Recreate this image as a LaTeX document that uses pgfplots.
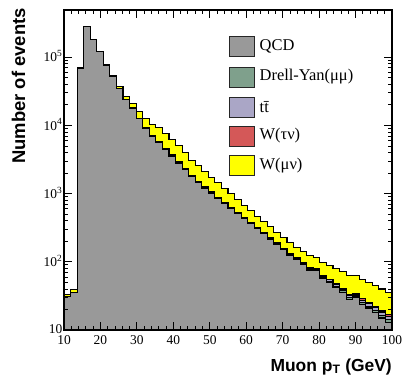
\documentclass[border=0pt]{standalone}
\usepackage{fontspec}
\setmainfont{Liberation Serif}
\setsansfont{Liberation Sans}
\usepackage{pgfplots}
\usepackage{pgfplotstable}
\pgfplotsset{compat=1.18}

\definecolor{qcdgray}{RGB}{153,153,153}
\definecolor{dygreen}{RGB}{127,160,140}
\definecolor{ttlav}{RGB}{170,166,198}
\definecolor{wtaured}{RGB}{212,88,88}
\definecolor{wmuyel}{RGB}{255,255,0}

% Muon pT spectrum, 1.8 GeV bins: left bin edge and events per sample
\pgfplotstableread{
edge  qcd     dy    tt   wtau  wmu
10.0  31      0     0    0     2
11.8  36      0     0    0     3
13.6  69000   300   1    16    400
15.4  280000  900   2    32    800
17.2  180000  700   2.5  44    1100
19.0  120000  500   3    56    1400
20.8  77000   350   3.2  68    1700
22.6  52000   250   3.5  78    1950
24.4  35000   180   3.7  88    2200
26.2  24000   130   3.9  100   2500
28.0  18000   100   4    112   2800
29.8  12600   80    4.2  124   3100
31.6  9000    65    4.2  132   3300
33.4  6800    55    4.2  138   3450
35.2  5600    45    4.2  140   3500
37.0  4500    38    4.2  120   3000
38.8  3550    32    4.2  104   2600
40.6  2800    27    4.2  84    2100
42.4  2240    23    4.2  66    1650
44.2  1780    19    4.2  50    1250
46.0  1450    16    4.2  42    1050
47.8  1200    14    4.0  34    840
49.6  1020    12    3.9  27    680
51.4  850     10    3.8  22    560
53.2  720     9     3.7  18    450
55.0  600     8     3.6  15    370
56.8  510     7     3.5  11    280
58.6  435     6     3.4  9     225
60.4  365     5.5   3.3  7.2   180
62.2  305     5     3.2  6     150
64.0  260     4.5   3.1  4.7   118
65.8  215     4     3.0  4     99
67.6  180     3.6   2.9  3.2   80
69.4  150     3.2   2.8  2.6   66
71.2  125     3     2.8  2.3   57
73.0  107     2.8   2.7  2     50
74.8  92      2.6   2.6  1.8   44
76.6  76      2.4   2.6  1.6   40
78.4  74      2.2   2.5  1.5   37
80.2  58      2     2.4  1.4   35
82.0  50      1.9   2.4  1.3   33
83.8  42      1.8   2.3  1.3   32
85.6  36      1.7   2.3  1.2   31
87.4  28      1.6   2.2  1.2   30
89.2  30      1.5   2.2  1.1   28
91.0  24      1.4   2.1  1.1   27
92.8  21      1.3   2.1  1     25
94.6  18      1.2   2.0  0.9   23
96.4  15      1.2   2.0  0.8   21
98.2  13      1.1   1.9  0.8   19
100.0 13      1.1   1.9  0.8   19
}\histdata

\begin{document}
\begin{tikzpicture}
\begin{axis}[
  scale only axis,
  width=328bp, height=320bp,
  xmin=10, xmax=100,
  ymode=log, ymin=10, ymax=4.94e5,
  xtick={10,20,30,40,50,60,70,80,90,100},
  xticklabels={10,20,30,40,50,60,70,80,90,100},
  minor x tick num=4,
  ytick={10,100,1000,10000,100000},
  yticklabels={10,10\textsuperscript{2},10\textsuperscript{3},10\textsuperscript{4},10\textsuperscript{5}},
  tick align=inside,
  major tick length=8bp, minor tick length=4bp,
  every tick/.style={black, line width=0.9bp},
  axis line style={line width=1.6bp},
  tick label style={font=\fontsize{13.5}{13.5}\selectfont},
  xticklabel style={inner sep=0bp, yshift=-5bp},
  yticklabel style={inner sep=1.5bp, yshift=1bp},
  axis on top,
]
% stacked histograms, drawn from the cumulative top down
\addplot[const plot mark left, fill=wmuyel, draw=black, line width=1.1bp]
  table[x=edge, y expr=\thisrow{qcd}+\thisrow{dy}+\thisrow{tt}+\thisrow{wtau}+\thisrow{wmu}] {\histdata} \closedcycle;
\addplot[const plot mark left, fill=wtaured, draw=black, line width=1.1bp]
  table[x=edge, y expr=\thisrow{qcd}+\thisrow{dy}+\thisrow{tt}+\thisrow{wtau}] {\histdata} \closedcycle;
\addplot[const plot mark left, fill=ttlav, draw=black, line width=1.1bp]
  table[x=edge, y expr=\thisrow{qcd}+\thisrow{dy}+\thisrow{tt}] {\histdata} \closedcycle;
\addplot[const plot mark left, fill=dygreen, draw=black, line width=1.1bp]
  table[x=edge, y expr=\thisrow{qcd}+\thisrow{dy}] {\histdata} \closedcycle;
\addplot[const plot mark left, fill=qcdgray, draw=black, line width=1.1bp]
  table[x=edge, y=qcd] {\histdata} \closedcycle;
\coordinate (sw) at (rel axis cs:0,0);
\coordinate (se) at (rel axis cs:1,0);
\coordinate (nw) at (rel axis cs:0,1);
\coordinate (ne) at (rel axis cs:1,1);
\end{axis}

% legend
\begin{scope}[every node/.style={anchor=west, inner sep=0, font=\fontsize{16.5}{16.5}\selectfont}]
\draw[fill=qcdgray, draw=black!85, line width=0.8bp] ([shift={(165.3bp,-26.5bp)}]nw) rectangle ([shift={(190.3bp,-46.5bp)}]nw);
\node at ([shift={(195.5bp,-36.5bp)}]nw) {QCD};
\draw[fill=dygreen, draw=black!85, line width=0.8bp] ([shift={(165.3bp,-57bp)}]nw) rectangle ([shift={(190.3bp,-77bp)}]nw);
\node at ([shift={(195.5bp,-67bp)}]nw) {Drell-Yan(μμ)};
\draw[fill=ttlav, draw=black!85, line width=0.8bp] ([shift={(165.3bp,-87bp)}]nw) rectangle ([shift={(190.3bp,-107bp)}]nw);
\node at ([shift={(195.5bp,-97bp)}]nw) {t\={t}};
\draw[fill=wtaured, draw=black!85, line width=0.8bp] ([shift={(165.3bp,-116bp)}]nw) rectangle ([shift={(190.3bp,-136bp)}]nw);
\node at ([shift={(195.5bp,-126bp)}]nw) {W(τν)};
\draw[fill=wmuyel, draw=black!85, line width=0.8bp] ([shift={(165.3bp,-145.3bp)}]nw) rectangle ([shift={(190.3bp,-165.3bp)}]nw);
\node at ([shift={(195.5bp,-155.3bp)}]nw) {W(μν)};
\end{scope}

% axis titles
\node[rotate=90, anchor=base east, inner sep=0, font=\sffamily\bfseries\fontsize{18.5}{18.5}\selectfont]
  at ([shift={(-39bp,2bp)}]nw) {Number of events};
\node[anchor=north east, inner sep=0, font=\sffamily\bfseries\fontsize{17.5}{17.5}\selectfont]
  at ([shift={(0bp,-28.5bp)}]se) {Muon p\textsubscript{T} (GeV)};

\pgfresetboundingbox
\path ([shift={(-64bp,-49bp)}]sw) rectangle ([shift={(11bp,10bp)}]ne);
\end{tikzpicture}
\end{document}
